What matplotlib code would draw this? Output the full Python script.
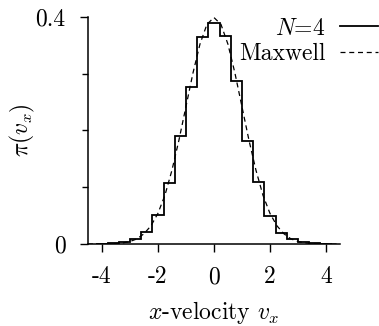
import numpy as np
import matplotlib
matplotlib.use("Agg")
import matplotlib.pyplot as plt

# histogram of x-velocities for N=4 (bin edges and heights)
bin_edges = [-4.2, -3.8, -3.4, -3.0, -2.6, -2.2, -1.8, -1.4, -1.0, -0.6, -0.2,
             0.2, 0.6, 1.0, 1.4, 1.8, 2.2, 2.6, 3.0, 3.4, 3.8, 4.2]
hist_n4 = [0.0, 0.001, 0.003, 0.009, 0.021, 0.051, 0.108, 0.191, 0.277, 0.365,
           0.389, 0.366, 0.287, 0.182, 0.109, 0.049, 0.020, 0.009, 0.004, 0.001, 0.0]

# Maxwell curve, sampled points
v_maxwell = [-4.5, -4.25, -4.0, -3.75, -3.5, -3.25, -3.0, -2.75, -2.5, -2.25,
             -2.0, -1.75, -1.5, -1.25, -1.0, -0.75, -0.5, -0.25, 0.0,
             0.25, 0.5, 0.75, 1.0, 1.25, 1.5, 1.75, 2.0, 2.25, 2.5, 2.75,
             3.0, 3.25, 3.5, 3.75, 4.0, 4.25, 4.5]
p_maxwell = [0.0, 0.0, 0.0001, 0.0004, 0.0009, 0.002, 0.0044, 0.009, 0.018, 0.032,
             0.054, 0.086, 0.130, 0.183, 0.242, 0.301, 0.352, 0.387, 0.399,
             0.387, 0.352, 0.301, 0.242, 0.183, 0.130, 0.086, 0.054, 0.032, 0.018, 0.009,
             0.0044, 0.002, 0.0009, 0.0004, 0.0001, 0.0, 0.0]

xticks = [-4, -2, 0, 2, 4]
xtick_labels = ["-4", "-2", "0", "2", "4"]

plt.rcParams["font.family"] = "serif"
plt.rcParams["font.serif"] = ["cmr10"]
plt.rcParams["mathtext.fontset"] = "cm"
plt.rcParams["axes.unicode_minus"] = False
plt.rcParams["axes.formatter.use_mathtext"] = True

fs = 17

fig = plt.figure(figsize=(3.79, 3.26), dpi=100)
ax = fig.add_axes([0.232, 0.2515, 0.665, 0.6965])

ax.stairs(hist_n4, bin_edges, color="black", lw=1.3, label=r"$N$=4")
ax.plot(v_maxwell, p_maxwell, color="black", lw=0.9, ls=(0, (4, 3)), label="Maxwell")

ax.set_xlim(-4.5, 4.5)
ax.set_ylim(0, 0.4)
ax.set_xticks(xticks)
ax.set_xticklabels(xtick_labels)
ax.set_yticks([0, 0.4])
ax.set_yticklabels(["0", "0.4"])
ax.set_yticks([0.1, 0.2, 0.3], minor=True)

for s in ["top", "right"]:
    ax.spines[s].set_visible(False)
ax.spines["left"].set_linewidth(1.1)
ax.spines["bottom"].set_linewidth(1.1)
ax.tick_params(which="major", direction="out", length=6, width=1.0, labelsize=fs, pad=10)
ax.tick_params(which="minor", direction="out", length=4, width=1.0)

ax.set_xlabel(r"$x$-velocity $v_x$", fontsize=fs, labelpad=8)
ax.set_ylabel(r"$\pi(v_x)$", fontsize=fs, labelpad=-1)

ax.legend(loc="upper right", bbox_to_anchor=(1.15, 0.997), frameon=False, markerfirst=False,
          fontsize=fs, handlelength=1.6, handletextpad=0.63, labelspacing=0.15,
          borderpad=0.0, borderaxespad=0.0)

fig.savefig("out.png", dpi=100)
